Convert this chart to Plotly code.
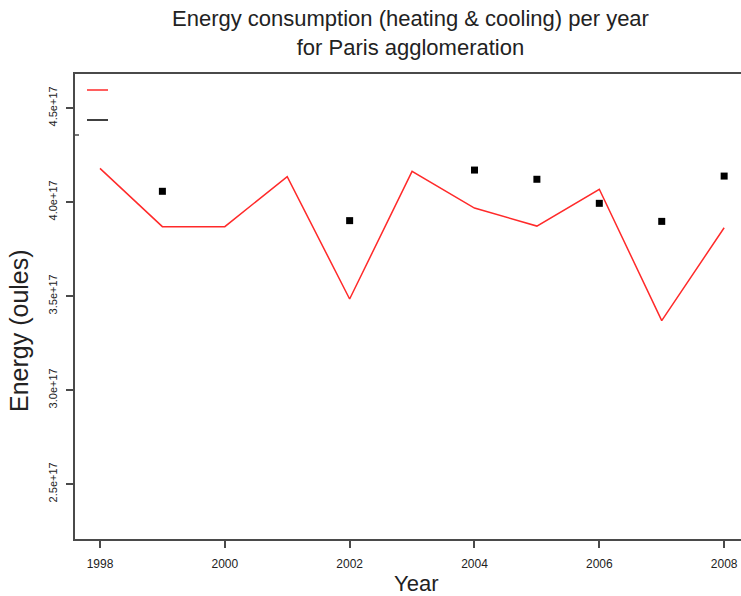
import plotly.graph_objects as go

years = [1998, 1999, 2000, 2001, 2002, 2003, 2004, 2005, 2006, 2007, 2008]
model_energy = [4.179e17, 3.869e17, 3.869e17, 4.135e17, 3.484e17, 4.163e17,
                3.968e17, 3.872e17, 4.068e17, 3.369e17, 3.863e17]
obs_years = [1999, 2002, 2004, 2005, 2006, 2007, 2008]
obs_energy = [4.057e17, 3.901e17, 4.170e17, 4.121e17, 3.993e17, 3.897e17, 4.138e17]

x_ticks = [1998, 2000, 2002, 2004, 2006, 2008]
y_ticks = [2.5e17, 3.0e17, 3.5e17, 4.0e17, 4.5e17]
y_tick_labels = ["2.5e+17", "3.0e+17", "3.5e+17", "4.0e+17", "4.5e+17"]

FONT = "Liberation Sans, Arial, Helvetica, sans-serif"
AXIS = "#4a4a4a"

W, H = 741, 596
# plot area in page pixels
PL, PT, PB, PR = 75, 74, 539, 741
L, T, B, R = PL, PT, H - PB, W - PR

fig = go.Figure()
fig.add_trace(go.Scatter(x=years, y=model_energy, mode="lines",
                         line=dict(color="#ff2a2a", width=1.5), showlegend=False))
fig.add_trace(go.Scatter(x=obs_years, y=obs_energy, mode="markers",
                         marker=dict(color="black", size=7, symbol="square"),
                         showlegend=False))

fig.update_layout(
    width=W, height=H,
    margin=dict(l=L, r=R, t=T, b=B, pad=0, autoexpand=False),
    paper_bgcolor="white", plot_bgcolor="white",
    font=dict(family=FONT, color="#222"),
    showlegend=False,
)
fig.update_xaxes(
    range=[1997.6, 2008.27], tickvals=x_ticks, ticks="outside", ticklen=7,
    tickcolor=AXIS, tickwidth=1.5, showgrid=False, zeroline=False,
    showline=True, linecolor=AXIS, linewidth=2, mirror=True, automargin=False,
    ticklabelstandoff=6,
    tickfont=dict(size=12, family=FONT, color="#222"),
)
fig.update_yaxes(
    range=[2.2074e17, 4.681e17], tickvals=y_ticks, ticktext=y_tick_labels,
    ticks="outside", ticklen=7, tickcolor=AXIS, tickwidth=1.5,
    tickangle=-90, showgrid=False, zeroline=False, automargin=False,
    showline=True, linecolor=AXIS, linewidth=2, mirror=False,
    ticklabelstandoff=5,
    tickfont=dict(size=11, family=FONT, color="#222"),
)


def px(xp):
    return (xp - PL) / (PR - PL)


def py(yp):
    return 1 - (yp - PT) / (PB - PT)


annos = [
    dict(text="Energy consumption (heating & cooling) per year<br>for Paris agglomeration",
         x=410, y=33.5, size=22, angle=0),
    dict(text="Year", x=416, y=583, size=22, angle=0),
    dict(text="Energy (oules)", x=19, y=331, size=25, angle=-90),
]
for a in annos:
    fig.add_annotation(
        text=a["text"], xref="paper", yref="paper",
        x=px(a["x"]), y=py(a["y"]),
        xanchor="center", yanchor="middle", showarrow=False,
        font=dict(family=FONT, color="#222", size=a["size"]),
        textangle=a["angle"],
    )

# legend glyphs (no text)
for yy, col in [(90, "#ff2a2a"), (120, "black")]:
    fig.add_shape(type="line", xref="paper", yref="paper",
                  x0=px(87), x1=px(108), y0=py(yy), y1=py(yy),
                  line=dict(color=col, width=1.5))
# small legend-box corner mark
fig.add_shape(type="line", xref="paper", yref="paper",
              x0=px(75), x1=px(79), y0=py(135), y1=py(135),
              line=dict(color=AXIS, width=1.5))

fig.write_html(
    "out.html",
    config={"displayModeBar": False},
    post_script="document.body.style.margin='0';document.body.style.overflow='hidden';",
)
